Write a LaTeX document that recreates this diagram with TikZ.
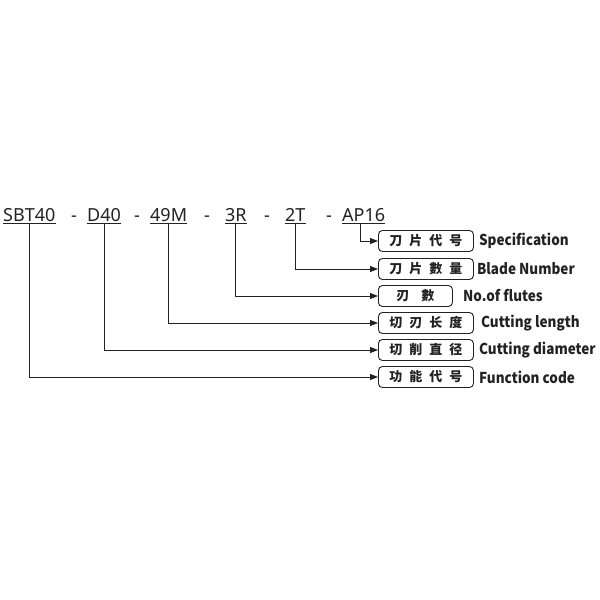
\documentclass[tikz,border=0pt]{standalone}
\usepackage{fontspec}
\setmainfont{Noto Sans}
\newfontfamily\cjk{Noto Sans CJK SC}
\newfontfamily\labfont{Noto Sans CJK SC}[FakeStretch=0.9]
\usetikzlibrary{arrows.meta}
\definecolor{ink}{HTML}{222222}
\newcommand{\cjksp}{\hspace{7pt}}
\begin{document}
\begin{tikzpicture}[x=1pt,y=-1pt,
  code/.style={anchor=base west,inner xsep=0pt,inner ysep=2pt,text depth=0pt,font=\fontsize{18}{18}\selectfont,text=ink},
  sepdash/.style={anchor=base,inner sep=0pt,font=\fontsize{18}{18}\selectfont\bfseries,text=ink},
  box/.style={draw=ink,line width=0.9pt,rounded corners=4pt,minimum height=21pt,minimum width=95pt,inner sep=0pt,anchor=west,font=\cjk\bfseries\fontsize{13}{13}\selectfont,text=ink},
  lab/.style={anchor=west,inner sep=0pt,font=\labfont\bfseries\fontsize{15}{15}\selectfont,text=ink},
  conn/.style={draw=ink,line width=0.9pt,-{Triangle[length=8pt,width=6pt]}},
  uline/.style={draw=ink,line width=0.9pt}]
\useasboundingbox (0,0) rectangle (600,600);
\fill[white] (0,0) rectangle (600,600);
% codes
\node[code] (c1) at (3,221) {SBT40};
\node[code] (c2) at (87,221) {D40};
\node[code] (c3) at (150,221) {49M};
\node[code] (c4) at (225,221) {3R};
\node[code] (c5) at (285,221) {2T};
\node[code] (c6) at (342,221) {AP16};
\node[sepdash] (d1) at (74,221) {-};
\node[sepdash] (d2) at (137,221) {-};
\node[sepdash] (d3) at (207,221) {-};
\node[sepdash] (d4) at (267,221) {-};
\node[sepdash] (d5) at (329,221) {-};
\foreach \i in {1,...,6} {\draw[uline] (c\i.south west) -- (c\i.south east);}
% boxes
\node[box] (b1) at (378,241) {刀\cjksp 片\cjksp 代\cjksp 号};
\node[box] (b2) at (378,269) {刀\cjksp 片\cjksp 數\cjksp 量};
\node[box,minimum width=74pt] (b3) at (378,296) {刃\hspace{12pt}數};
\node[box] (b4) at (378,323) {切\cjksp 刃\cjksp 长\cjksp 度};
\node[box] (b5) at (378,350) {切\cjksp 削\cjksp 直\cjksp 径};
\node[box] (b6) at (378,377) {功\cjksp 能\cjksp 代\cjksp 号};
% labels
\node[lab] (l1) at ([xshift=5pt]b1.east) {Specification};
\node[lab] (l2) at ([xshift=3pt]b2.east) {Blade Number};
\node[lab] (l3) at ([xshift=10pt]b3.east) {No.of flutes};
\node[lab] (l4) at ([xshift=7pt]b4.east) {Cutting length};
\node[lab] (l5) at ([xshift=5pt]b5.east) {Cutting diameter};
\node[lab] (l6) at ([xshift=5pt]b6.east) {Function code};
% connectors
\draw[conn] ([xshift=-3pt]c6.south) |- (b1.west);
\draw[conn] (c5.south) |- (b2.west);
\draw[conn] (c4.south) |- (b3.west);
\draw[conn] (c3.south) |- (b4.west);
\draw[conn] (c2.south) |- (b5.west);
\draw[conn] (c1.south) |- (b6.west);
\end{tikzpicture}
\end{document}
